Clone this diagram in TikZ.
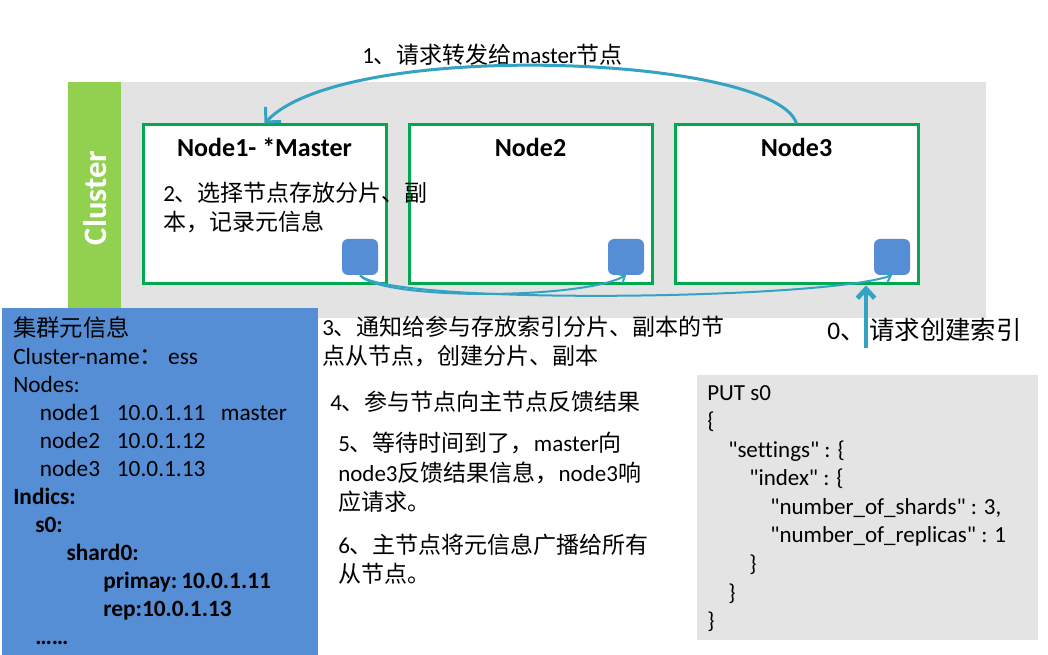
\documentclass[tikz,border=0pt]{standalone}
\usepackage{fontspec}
\setmainfont{Carlito}[Ligatures={TeXOff,NoCommon}]
\newfontfamily\cjk{Noto Sans CJK SC}
\usetikzlibrary{arrows.meta}
\definecolor{clgray}{HTML}{E3E3E3}
\definecolor{clgreen}{HTML}{92D050}
\definecolor{ndgreen}{HTML}{00A84F}
\definecolor{sqblue}{HTML}{558ED5}
\definecolor{teal1}{HTML}{34A2C2}
\definecolor{codegray}{HTML}{E4E4E4}
\newcommand\cj[1]{{\cjk #1}}
\newcommand\fsz[2]{\fontsize{#1}{#2}\selectfont}
\tikzset{
  ndbox/.style={draw=ndgreen, line width=2.25pt, fill=white, minimum width=182.25pt, minimum height=119.25pt, inner sep=0pt},
  ndtitle/.style={font=\bfseries\fsz{19.5}{23}, inner sep=0pt},
  shardsq/.style={fill=sqblue, rounded corners=4.5pt, minimum size=27pt, inner sep=0pt},
  txt/.style={anchor=west, inner sep=0pt, align=left, font=\fsz{17.25}{21.75}},
  flow/.style={draw=teal1, line width=2.25pt, -{Straight Barb[length=8pt,width=16pt]}},
  notify/.style={draw=teal1, line width=1.5pt, -{Straight Barb[length=4pt,width=8pt]}},
  reqarrow/.style={draw=teal1, line width=3.5pt, -{Straight Barb[length=7pt,width=13pt]}},
}
\begin{document}
\begin{tikzpicture}[x=0.75pt,y=-0.75pt]
\useasboundingbox (0,0) rectangle (1048,655);
% cluster background
\fill[clgray] (121,82) rectangle (986,318);
\fill[clgreen] (68,82) rectangle (121,318);
\node[rotate=90, text=white, font=\bfseries\fsz{24.5}{28}, inner sep=0pt] (cl) at (95,198) {Cluster};
% nodes
\node[ndbox] (n1) at (264.5,204.5) {};
\node[ndbox] (n2) at (530.5,204.5) {};
\node[ndbox] (n3) at (796.5,204.5) {};
\node[ndtitle] (t1) at (264.5,147) {Node1- *Master};
\node[ndtitle] (t2) at (530.5,147) {Node2};
\node[ndtitle] (t3) at (796.5,147) {Node3};
\node[shardsq] (s1) at (360,257) {};
\node[shardsq] (s2) at (626,257) {};
\node[shardsq] (s3) at (892,257) {};
% texts
\node[txt] (l1) at (362,55) {1\cj{、请求转发给}master\cj{节点}};
\node[txt] (l2) at (163,207.5) {2\cj{、选择节点存放分片、副}\\\cj{本，记录元信息}};
\node[txt] (l3) at (322,342) {3\cj{、通知给参与存放索引分片、副本的节}\\\cj{点从节点，创建分片、副本}};
\node[txt] (l4) at (330,402) {4\cj{、参与节点向主节点反馈结果}};
\node[txt, font=\fsz{17.25}{22.1}] (l5) at (338,472.5) {5\cj{、等待时间到了，}master\cj{向}\\node3\cj{反馈结果信息，}node3\cj{响}\\\cj{应请求。}};
\node[txt] (l6) at (338,559) {6\cj{、主节点将元信息广播给所有}\\\cj{从节点。}};
\node[txt, font=\fsz{19}{23}] (l0) at (827,330) {0\cj{、}\hspace{3pt}\cj{请求创建索引}};
% cluster meta box
\fill[sqblue] (2,308) rectangle (318,655);
\node[txt, font=\fsz{17.5}{21}] (meta) at (13,481) {\cj{集群元信息}\\
Cluster-name\cj{：} ess\\
Nodes:\\
\hspace*{20pt}\makebox[57.75pt][l]{node1}\makebox[78pt][l]{10.0.1.11}master\\
\hspace*{20pt}\makebox[57.75pt][l]{node2}10.0.1.12\\
\hspace*{20pt}\makebox[57.75pt][l]{node3}10.0.1.13\\
\textbf{Indics:}\\
\hspace*{16.5pt}\textbf{s0:}\\
\hspace*{40pt}\textbf{shard0:}\\
\hspace*{67.5pt}\textbf{primay:\,10.0.1.11}\\
\hspace*{67.5pt}\textbf{rep:10.0.1.13}\\
\hspace*{16.5pt}\textbf{……}};
% code box
\fill[codegray] (697,375) rectangle (1038,640);
\node[txt, font=\fsz{17.25}{21.4}] (code) at (707,508.5) {PUT s0\\
\{\\
\hspace*{15.75pt}"settings" : \{\\
\hspace*{31.5pt}"index" : \{\\
\hspace*{47.25pt}"number\_of\_shards" : 3,\\
\hspace*{47.25pt}"number\_of\_replicas" : 1\\
\hspace*{31.5pt}\}\\
\hspace*{15.75pt}\}\\
\}};
% connectors
\draw[flow] (n3.north) .. controls (775,55) and (345,38) .. (n1.north);
\draw[notify] (s1.south) .. controls (380,300) and (580,300) .. (s2.south);
\draw[notify] (s1.south) .. controls (390,305) and (820,300) .. (s3.south);
\coordinate (req) at (866,348);
\draw[reqarrow] (req) -- (req |- n3.south);
\end{tikzpicture}
\end{document}
